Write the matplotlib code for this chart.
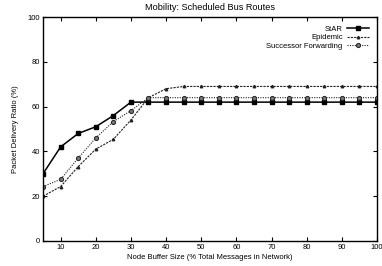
import numpy as np
import matplotlib.pyplot as plt

# Buffer size (% of total messages) and delivery ratios
buffer_size = [5, 10, 15, 20, 25, 30, 35, 40, 45, 50, 55, 60, 65, 70, 75, 80, 85, 90, 95, 100]
star = [30, 42, 48, 51, 56, 62, 62, 62, 62, 62, 62, 62, 62, 62, 62, 62, 62, 62, 62, 62]
epidemic = [20, 24.3, 33.2, 41, 45.4, 54, 64, 68, 69, 69, 69, 69, 69, 69, 69, 69, 69, 69, 69, 69]
successor = [24.3, 27.5, 37, 46, 53.3, 58.2, 64, 64, 64, 64, 64, 64, 64, 64, 64, 64, 64, 64, 64, 64]

x_ticks = [10, 20, 30, 40, 50, 60, 70, 80, 90, 100]
y_ticks = [0, 20, 40, 60, 80, 100]

plt.rcParams["font.family"] = ["Liberation Sans", "DejaVu Sans"]
plt.rcParams["font.size"] = 5.5

fig = plt.figure(figsize=(3.82, 2.66), dpi=100)
ax = fig.add_axes([0.1126, 0.094, 0.8744, 0.842])

ax.plot(buffer_size, star, color="black", linestyle="-", linewidth=1.1,
        marker="s", markersize=3.2, label="StAR")
ax.plot(buffer_size, epidemic, color="#222222", linestyle=(0, (2, 1)), linewidth=0.8,
        marker="^", markersize=1.8, label="Epidemic")
ax.plot(buffer_size, successor, color="#222222", linestyle=(0, (1, 1.2)), linewidth=0.8,
        marker="o", markersize=3, markerfacecolor="#777777", markeredgecolor="#222222",
        markeredgewidth=0.7, label="Successor Forwarding")

ax.set_xlim(5, 100)
ax.set_ylim(0, 100)
ax.set_xticks(x_ticks)
ax.set_yticks(y_ticks)
ax.tick_params(direction="in", top=True, right=True, length=3, width=0.8, pad=2)
for spine in ax.spines.values():
    spine.set_linewidth(1.0)

ax.set_title("Mobility: Scheduled Bus Routes", pad=5)
ax.set_xlabel("Node Buffer Size (% Total Messages in Network)", labelpad=2)
ax.set_ylabel("Packet Delivery Ratio (%)", labelpad=6)

leg = ax.legend(loc="upper right", frameon=False, markerfirst=False,
                handlelength=2.8, handletextpad=0.6, labelspacing=0.15,
                borderaxespad=0.7)
for t in leg.get_texts():
    t.set_ha("right")

fig.savefig("out.png", dpi=100)
